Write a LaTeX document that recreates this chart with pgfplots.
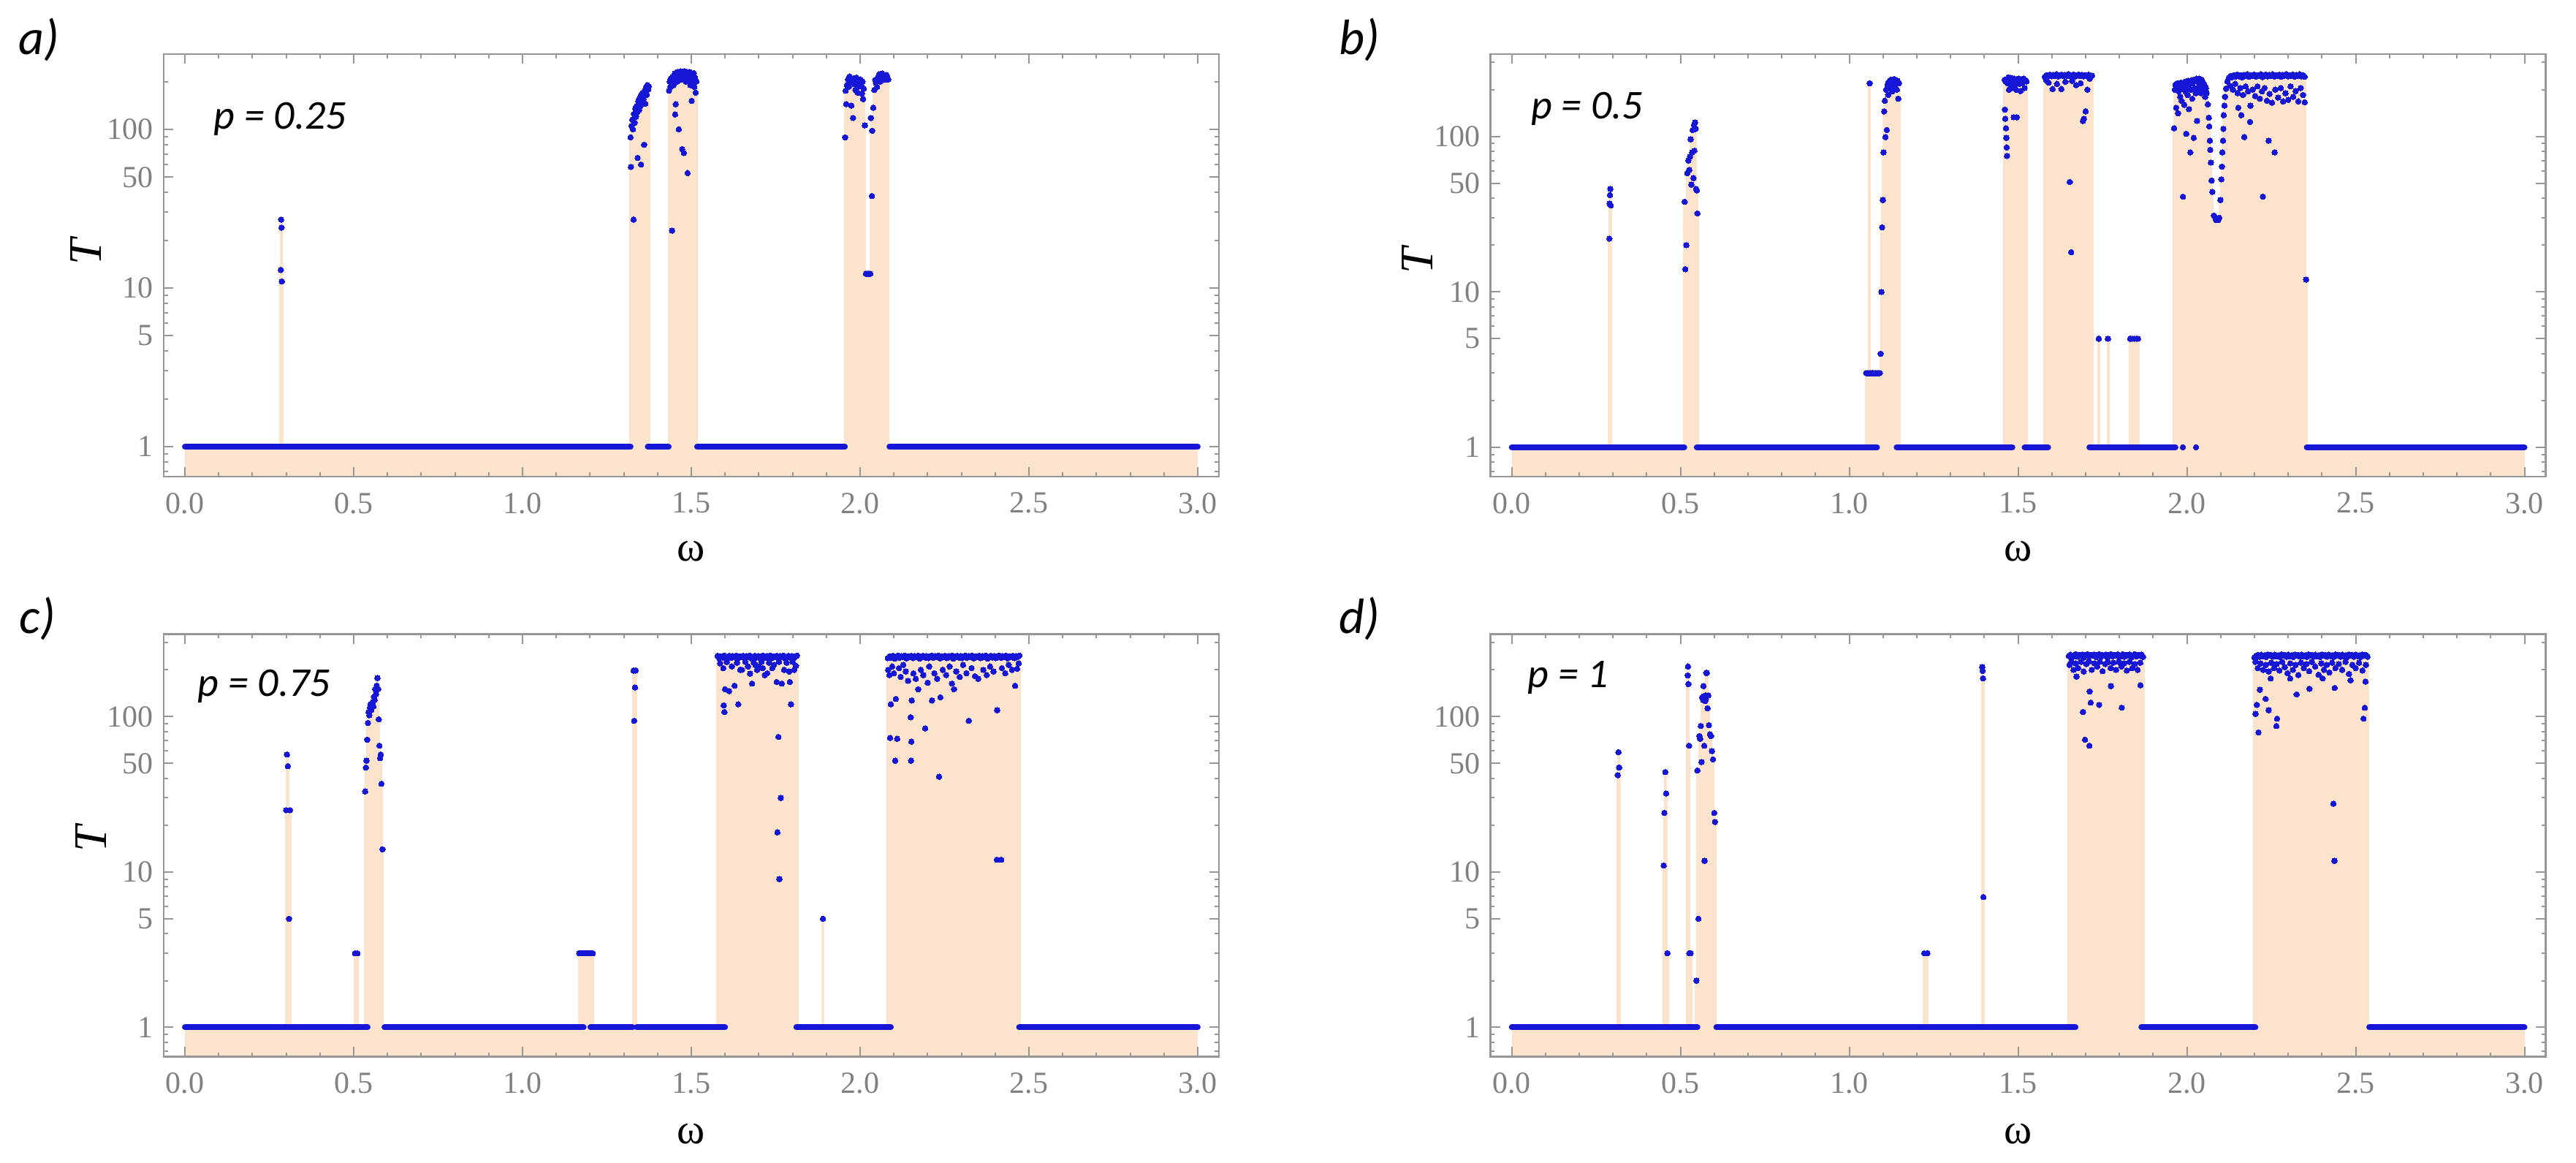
\documentclass[border=0pt]{standalone}
\usepackage{fontspec}
\setmainfont{Liberation Serif}
\newfontfamily\carlito{Carlito}
\usepackage{pgfplots}
\pgfplotsset{compat=1.18}
\usepackage{pgfplotstable}
\definecolor{fillc}{RGB}{252,228,204}
\definecolor{dotc}{RGB}{22,22,215}
\definecolor{framec}{RGB}{150,150,150}
\definecolor{tickc}{RGB}{128,128,128}

% ---------- panel a (p = 0.25)
\pgfplotstableread[row sep=\\]{x y\\
0.284 13\\ 0.285 27\\ 0.286 24\\ 0.287 11\\
1.320 89\\ 1.321 58\\ 1.323 105\\ 1.325 115\\ 1.327 100\\ 1.329 27\\ 1.330 125\\ 1.332 110\\ 1.334 135\\ 1.336 120\\
1.338 140\\ 1.340 128\\ 1.341 66\\ 1.343 150\\ 1.345 132\\ 1.347 158\\ 1.349 140\\ 1.351 60\\ 1.352 165\\ 1.354 145\\
1.356 170\\ 1.358 155\\ 1.360 80\\ 1.362 175\\ 1.364 145\\ 1.366 185\\ 1.368 165\\ 1.370 190\\ 1.372 178\\ 1.374 186\\
1.434 175\\ 1.436 200\\ 1.438 185\\ 1.440 210\\ 1.442 195\\ 1.443 23\\ 1.445 215\\ 1.447 190\\ 1.449 205\\ 1.451 225\\
1.452 124\\ 1.454 144\\ 1.456 220\\ 1.458 200\\ 1.460 230\\ 1.462 215\\ 1.463 100\\ 1.465 225\\ 1.467 205\\ 1.469 232\\
1.471 218\\ 1.473 75\\ 1.475 228\\ 1.477 210\\ 1.478 71\\ 1.480 232\\ 1.482 220\\ 1.484 200\\ 1.486 230\\ 1.488 215\\
1.489 53\\ 1.491 226\\ 1.493 205\\ 1.495 230\\ 1.497 190\\ 1.499 222\\ 1.501 151\\ 1.503 215\\ 1.505 200\\ 1.507 226\\
1.509 185\\ 1.511 212\\ 1.513 170\\ 1.515 200\\
1.956 89\\ 1.957 175\\ 1.959 144\\ 1.961 190\\ 1.964 206\\ 1.967 186\\ 1.969 215\\ 1.971 196\\ 1.974 141\\ 1.977 200\\
1.979 118\\ 1.982 210\\ 1.984 192\\ 1.986 177\\ 1.989 212\\ 1.991 199\\ 1.993 170\\ 1.995 186\\ 1.998 205\\ 2.001 206\\
2.003 190\\ 2.005 168\\ 2.007 200\\ 2.009 155\\ 2.011 180\\ 2.014 106\\ 2.017 12.3\\ 2.021 12.3\\ 2.026 12.3\\ 2.030 12.3\\
2.032 118\\ 2.035 38\\ 2.036 98\\ 2.039 137\\ 2.042 177\\ 2.045 205\\ 2.047 196\\ 2.050 185\\ 2.052 210\\ 2.054 215\\
2.056 222\\ 2.059 200\\ 2.062 216\\ 2.065 225\\ 2.068 222\\ 2.071 205\\ 2.074 210\\ 2.077 220\\ 2.080 216\\ 2.083 206\\
}\dataA
\pgfplotstableread[row sep=\\]{x y\\
0 1\\ 1.320 1\\ 1.345 nan\\ 1.371 1\\ 1.433 1\\ 1.47 nan\\ 1.517 1\\ 1.955 1\\ 2.02 nan\\ 2.087 1\\ 3.0 1\\
}\baseA

% ---------- panel b (p = 0.5)
\pgfplotstableread[row sep=\\]{x y\\
0.289 22\\ 0.290 37\\ 0.291 42\\ 0.292 46\\ 0.293 36\\
0.512 38\\ 0.514 14\\ 0.517 20\\ 0.520 58\\ 0.523 70\\ 0.526 61\\ 0.528 74\\ 0.530 96\\ 0.532 49\\ 0.534 79\\
0.536 110\\ 0.538 54\\ 0.540 119\\ 0.541 81\\ 0.543 123\\ 0.545 112\\ 0.546 46\\ 0.548 45\\ 0.550 32\\
1.050 3\\ 1.054 3\\ 1.058 3\\ 1.060 220\\ 1.062 3\\ 1.066 3\\ 1.070 3\\ 1.074 3\\ 1.078 3\\ 1.082 3\\ 1.086 3\\ 1.090 3\\
1.093 4\\ 1.095 10\\ 1.097 26\\ 1.099 39\\ 1.101 79\\ 1.103 145\\ 1.105 170\\ 1.107 99\\ 1.109 200\\ 1.111 110\\
1.113 215\\ 1.115 185\\ 1.117 225\\ 1.119 205\\ 1.121 230\\ 1.123 215\\ 1.125 232\\ 1.127 195\\ 1.129 228\\ 1.131 220\\
1.133 234\\ 1.135 210\\ 1.137 230\\ 1.139 225\\ 1.141 200\\ 1.143 228\\ 1.145 175\\ 1.147 220\\
1.460 232\\ 1.461 149\\ 1.462 130\\ 1.463 225\\ 1.464 113\\ 1.465 98\\ 1.466 85\\ 1.467 75\\ 1.469 220\\ 1.471 240\\
1.473 200\\ 1.475 235\\ 1.477 215\\ 1.479 238\\ 1.481 205\\ 1.484 228\\ 1.487 133\\ 1.489 235\\ 1.491 215\\ 1.494 200\\
1.496 133\\ 1.498 225\\ 1.501 236\\ 1.504 218\\ 1.507 196\\ 1.510 232\\ 1.513 222\\ 1.516 236\\ 1.519 205\\ 1.522 230\\ 1.525 226\\
1.579 242\\ 1.584 248\\ 1.589 245\\ 1.594 250\\ 1.599 244\\ 1.604 249\\ 1.609 246\\ 1.614 251\\ 1.619 243\\ 1.624 248\\
1.629 250\\ 1.634 245\\ 1.639 249\\ 1.644 246\\ 1.649 251\\ 1.654 244\\ 1.659 248\\ 1.664 250\\ 1.669 243\\ 1.674 247\\
1.679 250\\ 1.684 245\\ 1.689 249\\ 1.694 244\\ 1.699 248\\ 1.704 246\\ 1.709 250\\ 1.714 242\\ 1.719 246\\
1.583 230\\ 1.590 222\\ 1.602 202\\ 1.615 218\\ 1.628 202\\ 1.640 225\\ 1.653 51\\ 1.657 18\\ 1.660 228\\ 1.672 214\\
1.685 220\\ 1.692 126\\ 1.695 130\\ 1.700 145\\ 1.705 200\\ 1.712 235\\
1.739 5\\ 1.766 5\\ 1.832 5\\ 1.838 5\\ 1.844 5\\ 1.850 5\\ 1.855 5\\
1.962 113\\ 1.964 200\\ 1.966 215\\ 1.968 153\\ 1.970 205\\ 1.972 220\\ 1.974 141\\ 1.976 195\\ 1.978 210\\ 1.980 180\\
1.982 222\\ 1.984 170\\ 1.986 205\\ 1.988 41\\ 1.988 1\\ 1.990 215\\ 1.992 160\\ 1.994 225\\ 1.996 195\\ 1.998 104\\
2.000 210\\ 2.002 185\\ 2.004 228\\ 2.006 150\\ 2.008 218\\ 2.010 79\\ 2.012 200\\ 2.014 230\\ 2.016 175\\ 2.018 222\\
2.020 98\\ 2.022 232\\ 2.024 205\\ 2.026 190\\ 2.027 1\\ 2.028 235\\ 2.030 126\\ 2.032 225\\ 2.034 200\\ 2.036 236\\
2.038 215\\ 2.040 228\\ 2.042 190\\ 2.044 232\\ 2.046 210\\ 2.048 222\\ 2.050 200\\ 2.052 215\\ 2.054 180\\ 2.056 205\\
2.058 190\\ 2.062 161\\ 2.065 132\\ 2.066 116\\ 2.068 94\\ 2.069 82\\ 2.071 68\\ 2.073 52\\ 2.075 44\\ 2.080 31\\
2.084 30\\ 2.087 29\\ 2.090 29\\ 2.093 29\\ 2.096 30\\ 2.099 39\\ 2.102 53\\ 2.104 64\\ 2.105 79\\ 2.107 94\\
2.108 112\\ 2.109 137\\ 2.111 158\\ 2.113 180\\ 2.116 203\\ 2.120 226\\
2.124 238\\ 2.129 245\\ 2.134 241\\ 2.139 248\\ 2.144 243\\ 2.149 250\\ 2.154 244\\ 2.159 247\\ 2.164 240\\ 2.169 249\\
2.174 245\\ 2.179 251\\ 2.184 242\\ 2.189 248\\ 2.194 246\\ 2.199 250\\ 2.204 243\\ 2.209 248\\ 2.214 245\\ 2.219 251\\
2.224 241\\ 2.229 247\\ 2.234 250\\ 2.239 244\\ 2.244 249\\ 2.249 246\\ 2.254 251\\ 2.259 243\\ 2.264 248\\ 2.269 245\\
2.274 250\\ 2.279 242\\ 2.284 249\\ 2.289 246\\ 2.294 251\\ 2.299 244\\ 2.304 248\\ 2.309 245\\ 2.314 250\\ 2.319 243\\
2.324 249\\ 2.329 246\\ 2.334 251\\ 2.339 244\\ 2.344 248\\ 2.349 242\\
2.128 212\\ 2.136 200\\ 2.143 218\\ 2.150 190\\ 2.152 153\\ 2.158 205\\ 2.161 137\\ 2.166 185\\ 2.170 99\\ 2.174 210\\
2.181 195\\ 2.187 124\\ 2.188 158\\ 2.195 200\\ 2.202 182\\ 2.209 210\\ 2.216 175\\ 2.222 195\\ 2.225 41\\ 2.230 205\\
2.237 170\\ 2.242 94\\ 2.245 188\\ 2.252 165\\ 2.260 79\\ 2.262 200\\ 2.270 178\\ 2.278 205\\ 2.285 168\\ 2.292 190\\
2.300 172\\ 2.307 210\\ 2.315 180\\ 2.322 196\\ 2.330 168\\ 2.337 205\\ 2.344 185\\ 2.349 166\\ 2.353 12\\
}\dataB
\pgfplotstableread[row sep=\\]{x y\\
0 1\\ 0.511 1\\ 0.53 nan\\ 0.548 1\\ 1.082 1\\ 1.11 nan\\ 1.140 1\\ 1.483 1\\ 1.50 nan\\ 1.519 1\\ 1.589 1\\ 1.65 nan\\
1.711 1\\ 1.966 1\\ 2.1 nan\\ 2.355 1\\ 3.0 1\\
}\baseB

% ---------- panel c (p = 0.75)
\pgfplotstableread[row sep=\\]{x y\\
0.300 25\\ 0.302 57\\ 0.305 48\\ 0.308 5\\ 0.311 25\\ 0.504 3\\ 0.511 3\\
0.534 33\\ 0.536 47\\ 0.538 52\\ 0.540 71\\ 0.542 91\\ 0.544 107\\ 0.546 102\\ 0.548 114\\ 0.550 120\\ 0.552 110\\
0.554 118\\ 0.556 124\\ 0.558 116\\ 0.560 134\\ 0.562 128\\ 0.564 150\\ 0.566 140\\ 0.568 158\\ 0.570 177\\ 0.572 150\\
0.574 96\\ 0.576 65\\ 0.578 54\\ 0.580 57\\ 0.582 37\\ 0.585 14\\
1.168 3\\ 1.172 3\\ 1.176 3\\ 1.180 3\\ 1.184 3\\ 1.188 3\\ 1.192 3\\ 1.196 3\\ 1.200 3\\ 1.204 3\\ 1.208 3\\
1.329 198\\ 1.331 94\\ 1.333 154\\ 1.335 198\\
1.578 246\\ 1.583 238\\ 1.588 244\\ 1.593 240\\ 1.598 247\\ 1.603 236\\ 1.608 243\\ 1.613 246\\ 1.618 239\\ 1.623 245\\
1.628 242\\ 1.633 247\\ 1.638 237\\ 1.643 244\\ 1.648 241\\ 1.653 246\\ 1.658 238\\ 1.663 245\\ 1.668 242\\ 1.673 247\\
1.678 236\\ 1.683 243\\ 1.688 246\\ 1.693 240\\ 1.698 245\\ 1.703 238\\ 1.708 244\\ 1.713 247\\ 1.718 239\\ 1.723 245\\
1.728 242\\ 1.733 247\\ 1.738 237\\ 1.743 244\\ 1.748 241\\ 1.753 246\\ 1.758 238\\ 1.763 245\\ 1.768 242\\ 1.773 247\\
1.778 236\\ 1.783 243\\ 1.788 246\\ 1.793 240\\ 1.798 245\\ 1.803 238\\ 1.808 244\\ 1.813 247\\
1.585 220\\ 1.595 205\\ 1.605 225\\ 1.620 210\\ 1.635 222\\ 1.645 200\\ 1.660 225\\ 1.668 210\\ 1.685 222\\ 1.695 200\\
1.708 225\\ 1.712 205\\ 1.730 222\\ 1.745 215\\ 1.760 225\\ 1.775 200\\ 1.782 222\\ 1.790 195\\ 1.800 225\\ 1.810 212\\
1.596 118\\ 1.598 107\\ 1.600 150\\ 1.612 146\\ 1.628 158\\ 1.639 120\\ 1.650 200\\ 1.674 189\\ 1.680 163\\ 1.690 215\\
1.700 210\\ 1.718 185\\ 1.725 190\\ 1.740 205\\ 1.753 167\\ 1.755 18\\ 1.758 74\\ 1.761 9\\ 1.765 30\\ 1.768 163\\
1.792 167\\ 1.795 120\\ 1.805 200\\
1.890 5\\
2.082 238\\ 2.087 244\\ 2.092 240\\ 2.097 246\\ 2.102 236\\ 2.107 243\\ 2.112 247\\ 2.117 239\\ 2.122 245\\ 2.127 242\\
2.132 247\\ 2.137 237\\ 2.142 244\\ 2.147 241\\ 2.152 246\\ 2.157 238\\ 2.162 245\\ 2.167 242\\ 2.172 247\\ 2.177 236\\
2.182 243\\ 2.187 246\\ 2.192 240\\ 2.197 245\\ 2.202 238\\ 2.207 244\\ 2.212 247\\ 2.217 239\\ 2.222 245\\ 2.227 242\\
2.232 247\\ 2.237 237\\ 2.242 244\\ 2.247 241\\ 2.252 246\\ 2.257 238\\ 2.262 245\\ 2.267 242\\ 2.272 247\\ 2.277 236\\
2.282 243\\ 2.287 246\\ 2.292 240\\ 2.297 245\\ 2.302 238\\ 2.307 244\\ 2.312 247\\ 2.317 239\\ 2.322 245\\ 2.327 242\\
2.332 247\\ 2.337 237\\ 2.342 244\\ 2.347 241\\ 2.352 246\\ 2.357 238\\ 2.362 245\\ 2.367 242\\ 2.372 247\\ 2.377 236\\
2.382 243\\ 2.387 246\\ 2.392 240\\ 2.397 245\\ 2.402 238\\ 2.407 244\\ 2.412 247\\ 2.417 239\\ 2.422 245\\ 2.427 242\\
2.432 247\\ 2.437 237\\ 2.442 244\\ 2.447 241\\ 2.452 246\\ 2.457 238\\ 2.462 245\\ 2.467 242\\ 2.472 247\\
2.083 200\\ 2.087 185\\ 2.089 73\\ 2.091 120\\ 2.095 210\\ 2.100 190\\ 2.104 52\\ 2.106 130\\ 2.110 72\\ 2.115 205\\
2.120 180\\ 2.128 215\\ 2.135 195\\ 2.142 170\\ 2.150 99\\ 2.151 52\\ 2.152 69\\ 2.153 127\\ 2.158 190\\ 2.165 175\\
2.172 150\\ 2.180 200\\ 2.187 185\\ 2.193 84\\ 2.200 165\\ 2.205 210\\ 2.213 127\\ 2.220 190\\ 2.228 175\\ 2.234 41\\
2.238 133\\ 2.245 200\\ 2.255 185\\ 2.265 210\\ 2.272 163\\ 2.278 150\\ 2.285 195\\ 2.295 180\\ 2.305 215\\ 2.315 190\\
2.322 94\\ 2.330 205\\ 2.340 182\\ 2.350 175\\ 2.365 200\\ 2.375 185\\ 2.385 210\\ 2.395 195\\ 2.405 12\\ 2.406 110\\
2.418 12\\ 2.420 205\\ 2.430 190\\ 2.440 215\\ 2.450 200\\ 2.459 158\\ 2.465 203\\ 2.470 220\\
}\dataC
\pgfplotstableread[row sep=\\]{x y\\
0 1\\ 0.541 1\\ 0.56 nan\\ 0.591 1\\ 1.181 1\\ 1.19 nan\\ 1.201 1\\ 1.326 1\\ 1.33 nan\\ 1.338 1\\ 1.600 1\\ 1.7 nan\\
1.811 1\\ 2.091 1\\ 2.3 nan\\ 2.471 1\\ 3.0 1\\
}\baseC

% ---------- panel d (p = 1)
\pgfplotstableread[row sep=\\]{x y\\
0.314 42\\ 0.316 59\\ 0.318 47\\
0.450 11\\ 0.452 24\\ 0.455 44\\ 0.457 32\\ 0.461 3\\
0.521 184\\ 0.522 210\\ 0.523 162\\ 0.525 65\\ 0.526 3\\ 0.530 3\\
0.547 2\\ 0.550 45\\ 0.553 5\\ 0.556 75\\ 0.558 72\\ 0.560 87\\ 0.562 51\\ 0.564 133\\ 0.566 130\\ 0.567 128\\
0.568 157\\ 0.569 135\\ 0.570 65\\ 0.571 11.8\\ 0.572 133\\ 0.573 126\\ 0.574 137\\ 0.575 130\\ 0.576 191\\ 0.578 191\\
0.580 113\\ 0.582 137\\ 0.584 88\\ 0.587 77\\ 0.590 75\\ 0.593 60\\ 0.596 53\\ 0.600 24\\ 0.602 21\\
1.222 3\\ 1.231 3\\
1.394 208\\ 1.395 197\\ 1.396 176\\ 1.397 6.9\\
1.650 245\\ 1.655 250\\ 1.660 241\\ 1.665 248\\ 1.670 252\\ 1.675 243\\ 1.680 249\\ 1.685 246\\ 1.690 251\\ 1.695 240\\
1.700 248\\ 1.705 252\\ 1.710 244\\ 1.715 249\\ 1.720 246\\ 1.725 251\\ 1.730 242\\ 1.735 248\\ 1.740 252\\ 1.745 243\\
1.750 249\\ 1.755 246\\ 1.760 251\\ 1.765 240\\ 1.770 248\\ 1.775 252\\ 1.780 244\\ 1.785 249\\ 1.790 246\\ 1.795 251\\
1.800 242\\ 1.805 248\\ 1.810 252\\ 1.815 243\\ 1.820 249\\ 1.825 246\\ 1.830 251\\ 1.835 240\\ 1.840 248\\ 1.845 252\\
1.850 244\\ 1.855 249\\ 1.860 246\\ 1.865 251\\ 1.870 242\\
1.652 215\\ 1.658 225\\ 1.664 200\\ 1.670 220\\ 1.678 205\\ 1.686 225\\ 1.694 195\\ 1.702 218\\ 1.710 226\\ 1.718 200\\
1.726 220\\ 1.734 210\\ 1.742 225\\ 1.750 196\\ 1.758 218\\ 1.766 224\\ 1.774 205\\ 1.782 222\\ 1.790 200\\ 1.798 225\\
1.806 210\\ 1.814 220\\ 1.822 198\\ 1.830 225\\ 1.838 205\\ 1.846 218\\ 1.854 200\\ 1.862 222\\
1.673 181\\ 1.692 107\\ 1.698 71\\ 1.711 65\\ 1.712 145\\ 1.715 123\\ 1.740 119\\ 1.775 157\\ 1.807 114\\ 1.862 159\\
2.200 240\\ 2.205 246\\ 2.210 249\\ 2.215 243\\ 2.220 250\\ 2.225 245\\ 2.230 248\\ 2.235 242\\ 2.240 251\\ 2.245 246\\
2.250 249\\ 2.255 243\\ 2.260 250\\ 2.265 245\\ 2.270 248\\ 2.275 242\\ 2.280 251\\ 2.285 246\\ 2.290 249\\ 2.295 243\\
2.300 250\\ 2.305 245\\ 2.310 248\\ 2.315 242\\ 2.320 251\\ 2.325 246\\ 2.330 249\\ 2.335 243\\ 2.340 250\\ 2.345 245\\
2.350 248\\ 2.355 242\\ 2.360 251\\ 2.365 246\\ 2.370 249\\ 2.375 243\\ 2.380 250\\ 2.385 245\\ 2.390 248\\ 2.395 242\\
2.400 251\\ 2.405 246\\ 2.410 249\\ 2.415 243\\ 2.420 250\\ 2.425 245\\ 2.430 248\\ 2.435 242\\ 2.440 251\\ 2.445 246\\
2.450 249\\ 2.455 243\\ 2.460 250\\ 2.465 245\\ 2.470 248\\ 2.475 242\\ 2.480 251\\ 2.485 246\\ 2.490 249\\ 2.495 243\\
2.500 250\\ 2.505 245\\ 2.510 248\\ 2.515 242\\ 2.520 251\\ 2.525 246\\ 2.530 249\\ 2.535 243\\
2.203 225\\ 2.210 205\\ 2.218 220\\ 2.226 200\\ 2.234 215\\ 2.242 195\\ 2.250 222\\ 2.258 205\\ 2.266 218\\ 2.274 198\\
2.282 225\\ 2.290 208\\ 2.298 190\\ 2.306 220\\ 2.314 200\\ 2.322 215\\ 2.330 185\\ 2.338 222\\ 2.346 205\\ 2.354 218\\
2.362 196\\ 2.370 225\\ 2.380 210\\ 2.390 186\\ 2.398 220\\ 2.406 200\\ 2.414 215\\ 2.422 192\\ 2.430 222\\ 2.440 205\\
2.450 218\\ 2.460 200\\ 2.470 225\\ 2.480 188\\ 2.490 215\\ 2.500 205\\ 2.510 222\\ 2.520 198\\ 2.530 215\\
2.203 104\\ 2.207 119\\ 2.212 79\\ 2.216 149\\ 2.233 130\\ 2.242 110\\ 2.248 176\\ 2.265 87\\ 2.267 97\\ 2.306 176\\
2.325 139\\ 2.363 151\\ 2.402 176\\ 2.434 27.5\\ 2.437 11.8\\ 2.438 153\\ 2.485 171\\ 2.523 97\\ 2.527 114\\ 2.529 168\\
}\dataD
\pgfplotstableread[row sep=\\]{x y\\
0 1\\ 0.550 1\\ 0.58 nan\\ 0.606 1\\ 1.670 1\\ 1.75 nan\\ 1.865 1\\ 2.203 1\\ 2.4 nan\\ 2.540 1\\ 3.0 1\\
}\baseD

\newcommand{\panelplots}[2]{%
  \addplot[draw=none, fill=fillc] coordinates {(0,0.3) (0,1) (3,1) (3,0.3)};
  \addplot[ycomb, draw=fillc, line width=1pt, no markers] table {#1};
  \addplot[color=dotc, line width=2pt, line cap=round, unbounded coords=jump, no markers] table {#2};
  \addplot[color=dotc, only marks, mark=*, mark size=0.95pt, mark options={fill=dotc, draw=dotc, line width=0pt}] table {#1};
}

\begin{document}
\begin{tikzpicture}
\useasboundingbox (0,0) rectangle (881.25pt,397.75pt);
\pgfplotsset{every axis/.append style={scale only axis, width=361pt, height=144.5pt, anchor=north west,
  xmin=-0.063, xmax=3.063, ymin=0.648, ymax=339, axis on top,
  xtick={0,0.5,1,1.5,2,2.5,3}, xticklabels={0.0,0.5,1.0,1.5,2.0,2.5,3.0}, minor x tick num=4,
  ytick={1,5,10,50,100}, yticklabels={1,5,10,50,100},
  minor ytick={0.7,0.8,0.9,2,3,4,6,7,8,9,20,30,40,60,70,80,90,200,300},
  tick align=inside, major tick length=3.3pt, minor tick length=1.4pt,
  axis line style={framec, line width=0.6pt}, tick style={framec, line width=0.5pt},
  tick label style={font=\fontsize{10.5}{12}\selectfont, text=tickc},
  xticklabel style={yshift=-2pt}}}

\begin{semilogyaxis}[at={(56pt,379.25pt)}, ymax=298]
\panelplots{\dataA}{\baseA}
\end{semilogyaxis}
\begin{semilogyaxis}[at={(509.9pt,379.25pt)}]
\panelplots{\dataB}{\baseB}
\end{semilogyaxis}
\begin{semilogyaxis}[at={(56pt,180.85pt)}]
\panelplots{\dataC}{\baseC}
\end{semilogyaxis}
\begin{semilogyaxis}[at={(509.9pt,180.85pt)}]
\panelplots{\dataD}{\baseD}
\end{semilogyaxis}

\tikzset{plab/.style={font=\carlito\itshape\fontsize{17}{20}\selectfont, anchor=base west, inner sep=0pt},
         pval/.style={font=\carlito\itshape\fontsize{14}{16}\selectfont, anchor=base west, inner sep=0pt},
         tlab/.style={font=\itshape\fontsize{16}{18}\selectfont, rotate=90},
         wlab/.style={font=\fontsize{14.5}{16}\selectfont}}
\node[plab] at (6.25pt,379pt) {a)};
\node[plab] at (457.9pt,379pt) {b)};
\node[plab] at (6.5pt,181pt) {c)};
\node[plab] at (457.9pt,181pt) {d)};
\node[pval] at (73pt,353.5pt) {p = 0.25};
\node[pval] at (523.6pt,357.2pt) {p = 0.5};
\node[pval] at (67.5pt,159.6pt) {p = 0.75};
\node[pval] at (522.5pt,162.6pt) {p = 1};
\node[tlab] at (29.5pt,311.5pt) {T};
\node[tlab] at (484.9pt,308.5pt) {T};
\node[tlab] at (31.25pt,110.9pt) {T};
\node[wlab] at (236.5pt,209.25pt) {ω};
\node[wlab] at (690.4pt,209.25pt) {ω};
\node[wlab] at (236.5pt,10pt) {ω};
\node[wlab] at (690.4pt,10pt) {ω};
\end{tikzpicture}
\end{document}
